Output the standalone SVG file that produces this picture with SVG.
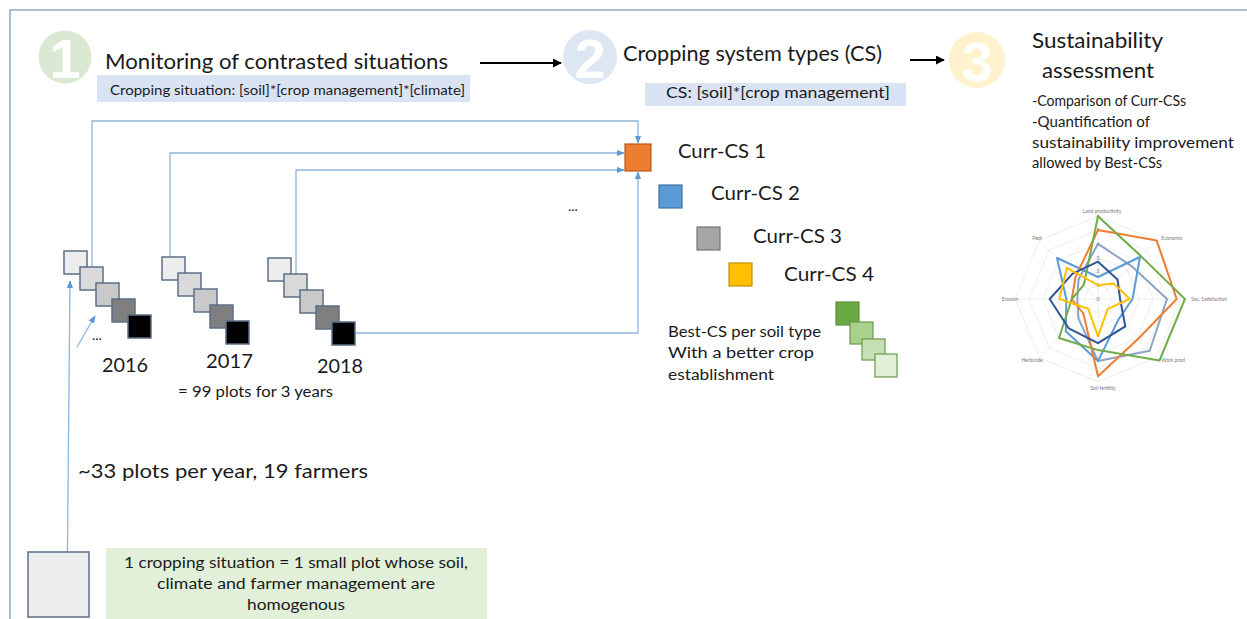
<svg xmlns="http://www.w3.org/2000/svg" width="1247" height="619" viewBox="0 0 1247 619">
<defs>
<style>
text{font-family:Lato,"Liberation Sans",sans-serif;fill:#1a1a1a}
.num{font-family:"Liberation Sans",Arial,sans-serif;font-weight:bold;fill:#fff;text-anchor:middle}
.conn{fill:none;stroke:#8fb4dc;stroke-width:1.3}
.plot{stroke:#5b6f86;stroke-width:1.5}
.grid{fill:none;stroke:#eeeeee;stroke-width:1}
.series{fill:none;stroke-width:2;stroke-linejoin:round}
.rl{font-size:5px;fill:#777;text-anchor:middle}
</style>
<marker id="blk" viewBox="0 0 10 10" refX="9" refY="5" markerWidth="9" markerHeight="9" markerUnits="userSpaceOnUse" orient="auto"><path d="M0,0 L10,5 L0,10 z" fill="#000"/></marker>
<marker id="blu" viewBox="0 0 10 10" refX="9" refY="5" markerWidth="8" markerHeight="8" markerUnits="userSpaceOnUse" orient="auto"><path d="M0,1 L10,5 L0,9 z" fill="#5b9bd5"/></marker>
</defs>
<rect width="1247" height="619" fill="#fff"/>
<path d="M10,619 L10,10 L1247,10" fill="none" stroke="#8ea8c8" stroke-width="1.5"/>

<g id="step1">
<circle cx="65" cy="57" r="26.5" fill="#dbe9d3"/>
<text class="num" x="65" y="78" font-size="56">1</text>
<text x="105" y="69" font-size="22" textLength="343" lengthAdjust="spacingAndGlyphs">Monitoring of contrasted situations</text>
<rect x="97" y="75" width="373" height="27" fill="#dae3f3"/>
<text x="110" y="95" font-size="13.5" fill="#333" textLength="355" lengthAdjust="spacingAndGlyphs">Cropping situation: [soil]*[crop management]*[climate]</text>
</g>

<g id="step2">
<circle cx="590" cy="57" r="27" fill="#dde6f2"/>
<text class="num" x="590" y="78" font-size="56">2</text>
<text x="623" y="61" font-size="22" textLength="259" lengthAdjust="spacingAndGlyphs">Cropping system types (CS)</text>
<rect x="645" y="83" width="261" height="23" fill="#dae3f3"/>
<text x="666" y="98" font-size="15" fill="#333" textLength="224" lengthAdjust="spacingAndGlyphs">CS: [soil]*[crop management]</text>
</g>

<g id="step3">
<circle cx="977" cy="60" r="28" fill="#fff2cc"/>
<text class="num" x="977" y="81" font-size="56">3</text>
<text x="1032" y="48" font-size="22" textLength="131" lengthAdjust="spacingAndGlyphs">Sustainability</text>
<text x="1042" y="78" font-size="22" textLength="112" lengthAdjust="spacingAndGlyphs">assessment</text>
<text x="1032" y="106" font-size="14.5" fill="#333" textLength="154" lengthAdjust="spacingAndGlyphs">-Comparison of Curr-CSs</text>
<text x="1032" y="127" font-size="14.5" fill="#333" textLength="118" lengthAdjust="spacingAndGlyphs">-Quantification of</text>
<text x="1032" y="148" font-size="14.5" fill="#333" textLength="202" lengthAdjust="spacingAndGlyphs">sustainability improvement</text>
<text x="1032" y="168" font-size="14.5" fill="#333" textLength="130" lengthAdjust="spacingAndGlyphs">allowed by Best-CSs</text>
</g>

<g id="radar">
<g class="grid">
<polygon points="1098,285.2 1107.8,289.2 1111.8,299 1107.8,308.8 1098,312.8 1088.2,308.8 1084.2,299 1088.2,289.2"/>
<polygon points="1098,271.4 1117.5,279.5 1125.6,299 1117.5,318.5 1098,326.6 1078.5,318.5 1070.4,299 1078.5,279.5"/>
<polygon points="1098,257.6 1127.3,269.7 1139.4,299 1127.3,328.3 1098,340.4 1068.7,328.3 1056.6,299 1068.7,269.7"/>
<polygon points="1098,243.8 1137,260 1153.2,299 1137,338 1098,354.2 1059,338 1042.8,299 1059,260"/>
<polygon points="1098,230 1146.8,250.2 1167,299 1146.8,347.8 1098,368 1049.2,347.8 1029,299 1049.2,250.2"/>
<polygon points="1098,216.2 1156.6,240.4 1180.8,299 1156.6,357.6 1098,381.8 1039.4,357.6 1015.2,299 1039.4,240.4"/>
<path d="M1098,299 L1098,216.2 M1098,299 L1156.6,240.4 M1098,299 L1180.8,299 M1098,299 L1156.6,357.6 M1098,299 L1098,381.8 M1098,299 L1039.4,357.6 M1098,299 L1015.2,299 M1098,299 L1039.4,240.4"/>
</g>
<text class="rl" x="1098" y="301">0</text>
<text class="rl" x="1098" y="287">1</text>
<text class="rl" x="1098" y="273">2</text>
<text class="rl" x="1098" y="260">3</text>
<text class="rl" x="1098" y="246">4</text>
<text class="rl" x="1098" y="232">5</text>
<text class="rl" x="1098" y="218">6</text>
<polygon class="series" stroke="#8ea3c4" points="1098,243.8 1131.2,265.8 1167,299 1149.7,350.7 1098,361.1 1078.5,318.5 1077.3,299 1078.5,279.5"/>
<polygon class="series" stroke="#5b9bd5" points="1098,277 1140,257 1132.5,299 1118.5,319.5 1098,361.1 1065.8,331.2 1066.3,299 1057,258"/>
<polygon class="series" stroke="#ed7d31" points="1098,230 1156.6,240.4 1176.7,299 1138,339 1098,376.3 1083.4,313.6 1071.8,299 1075.6,276.6"/>
<polygon class="series" stroke="#70ad47" points="1098,216.2 1140.9,256.1 1184.9,299 1159.5,360.5 1098,350.1 1059,338 1071.8,299 1083.8,284.8"/>
<polygon class="series" stroke="#2f5597" points="1098,261.7 1117.5,279.5 1120.1,299 1125.3,326.3 1098,343.2 1068.7,328.3 1049.7,299 1072.6,273.6"/>
<polygon class="series" stroke="#ffc000" points="1098,285.2 1113.6,283.4 1129.7,299 1107.8,308.8 1098,336.3 1088.2,308.8 1059.4,299 1066.8,267.8"/>
<text class="rl" x="1102" y="213">Land productivity</text>
<text class="rl" x="1172" y="240">Economic</text>
<text class="rl" x="1209" y="301">Soc. Satisfaction</text>
<text class="rl" x="1173" y="362">Work prod</text>
<text class="rl" x="1103" y="390">Soil fertility</text>
<text class="rl" x="1032" y="362">Herbicide</text>
<text class="rl" x="1010" y="301">Erosion</text>
<text class="rl" x="1037" y="240">Pest</text>
</g>

<g id="connectors">
<path d="M480,63 L561,63" stroke="#000" stroke-width="2" fill="none" marker-end="url(#blk)"/>
<path d="M910,60 L944,60" stroke="#000" stroke-width="2" fill="none" marker-end="url(#blk)"/>
<path class="conn" d="M92,267 L92,121 L638,121 L638,143" marker-end="url(#blu)"/>
<path class="conn" d="M170,257 L170,153 L624,153" marker-end="url(#blu)"/>
<path class="conn" d="M296,274 L296,170 L624,170" marker-end="url(#blu)"/>
<path class="conn" d="M355,333 L638,333 L638,172" marker-end="url(#blu)"/>
<path class="conn" d="M67,598 L70,281" marker-end="url(#blu)"/>
<path class="conn" d="M77,347 L95,316" marker-end="url(#blu)"/>
</g>

<g id="plots2016">
<rect class="plot" x="64" y="251" width="23" height="23" fill="#ededed"/>
<rect class="plot" x="80" y="267" width="23" height="23" fill="#dadada"/>
<rect class="plot" x="96" y="283" width="23" height="23" fill="#c9c9c9"/>
<rect class="plot" x="112" y="299" width="23" height="23" fill="#7f7f7f"/>
<rect class="plot" x="128" y="315" width="23" height="23" fill="#000"/>
<text x="92" y="340" font-size="14">...</text>
<text x="102" y="372" font-size="19" textLength="46" lengthAdjust="spacingAndGlyphs">2016</text>
</g>
<g id="plots2017">
<rect class="plot" x="162" y="257" width="23" height="23" fill="#ededed"/>
<rect class="plot" x="178" y="273" width="23" height="23" fill="#dadada"/>
<rect class="plot" x="194" y="289" width="23" height="23" fill="#c9c9c9"/>
<rect class="plot" x="210" y="305" width="23" height="23" fill="#7f7f7f"/>
<rect class="plot" x="226" y="321" width="23" height="23" fill="#000"/>
<text x="206" y="368" font-size="19" textLength="47" lengthAdjust="spacingAndGlyphs">2017</text>
<text x="178" y="397" font-size="14.5" fill="#333" textLength="155" lengthAdjust="spacingAndGlyphs">= 99 plots for 3 years</text>
</g>
<g id="plots2018">
<rect class="plot" x="268" y="258" width="23" height="23" fill="#ededed"/>
<rect class="plot" x="284" y="274" width="23" height="23" fill="#dadada"/>
<rect class="plot" x="300" y="290" width="23" height="23" fill="#c9c9c9"/>
<rect class="plot" x="316" y="306" width="23" height="23" fill="#7f7f7f"/>
<rect class="plot" x="332" y="322" width="23" height="23" fill="#000"/>
<text x="317" y="373" font-size="19" textLength="46" lengthAdjust="spacingAndGlyphs">2018</text>
</g>

<g id="currcs">
<text x="568" y="211" font-size="14">...</text>
<rect x="625" y="144" width="26" height="27" fill="#ed7d31" stroke="#b6591f" stroke-width="1.2"/>
<text x="678" y="158" font-size="19" textLength="88" lengthAdjust="spacingAndGlyphs">Curr-CS 1</text>
<rect x="659" y="185" width="23" height="23" fill="#5b9bd5" stroke="#41719c" stroke-width="1.2"/>
<text x="711" y="200" font-size="19" textLength="89" lengthAdjust="spacingAndGlyphs">Curr-CS 2</text>
<rect x="697" y="227" width="23" height="23" fill="#a5a5a5" stroke="#6e7a6a" stroke-width="1.2"/>
<text x="753" y="243" font-size="19" textLength="89" lengthAdjust="spacingAndGlyphs">Curr-CS 3</text>
<rect x="729" y="263" width="23" height="23" fill="#ffc000" stroke="#c09000" stroke-width="1.2"/>
<text x="784" y="281" font-size="19" textLength="90" lengthAdjust="spacingAndGlyphs">Curr-CS 4</text>
</g>

<g id="bestcs">
<rect x="836" y="302" width="23" height="23" fill="#6aa843" stroke="#5e8f3e" stroke-width="1.2"/>
<rect x="850" y="322" width="23" height="22" fill="#a9d18e" stroke="#6a9a4a" stroke-width="1.2"/>
<rect x="862" y="339" width="23" height="21" fill="#c5e0b4" stroke="#6a9a4a" stroke-width="1.2"/>
<rect x="875" y="354" width="22" height="23" fill="#e2f0d9" stroke="#6a9a4a" stroke-width="1.2"/>
<text x="668" y="337" font-size="14.5" fill="#333" textLength="153" lengthAdjust="spacingAndGlyphs">Best-CS per soil type</text>
<text x="668" y="358" font-size="14.5" fill="#333" textLength="146" lengthAdjust="spacingAndGlyphs">With a better crop</text>
<text x="668" y="380" font-size="14.5" fill="#333" textLength="106" lengthAdjust="spacingAndGlyphs">establishment</text>
</g>

<g id="plotsPerYear">
<text x="78" y="478" font-size="20" textLength="290" lengthAdjust="spacingAndGlyphs">~33 plots per year, 19 farmers</text>
</g>

<g id="legend">
<rect class="plot" x="28" y="552" width="61" height="65" fill="#ededed"/>
<rect x="106" y="548" width="381" height="71" fill="#e2efd9"/>
<text x="296" y="568" font-size="14.5" fill="#333" text-anchor="middle" textLength="344" lengthAdjust="spacingAndGlyphs">1 cropping situation = 1 small plot whose soil,</text>
<text x="296" y="589" font-size="14.5" fill="#333" text-anchor="middle" textLength="278" lengthAdjust="spacingAndGlyphs">climate and farmer management are</text>
<text x="296" y="610" font-size="14.5" fill="#333" text-anchor="middle" textLength="98" lengthAdjust="spacingAndGlyphs">homogenous</text>
</g>
</svg>
